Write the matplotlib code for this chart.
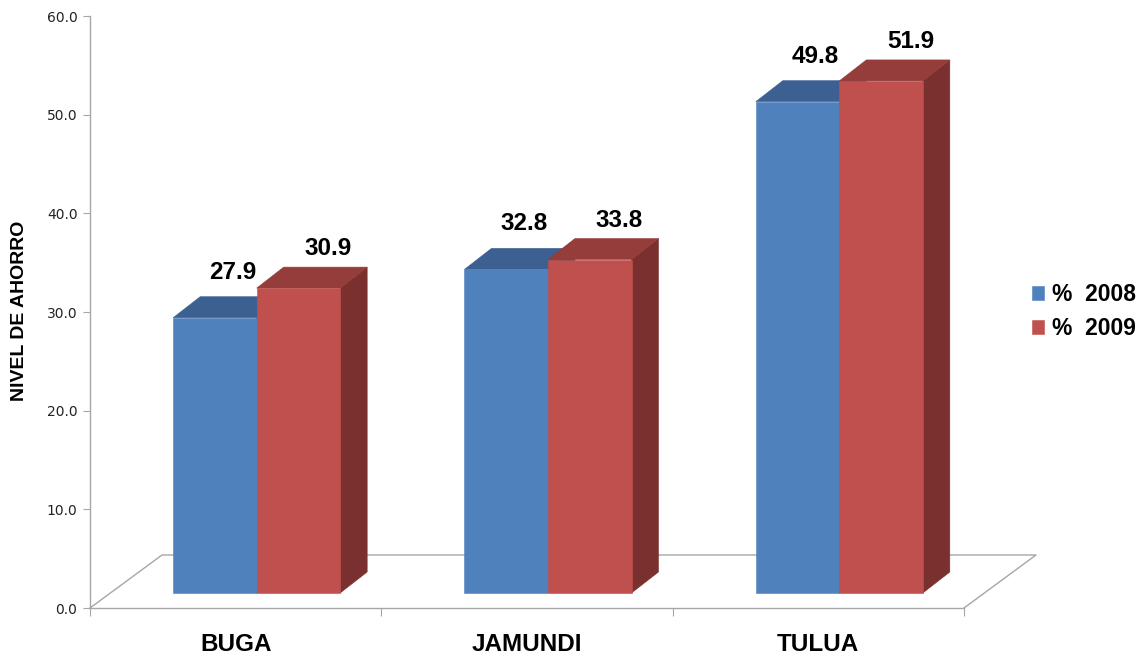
import matplotlib
matplotlib.use("Agg")
import matplotlib.pyplot as plt
from matplotlib.patches import Polygon
import numpy as np

categories = ["BUGA", "JAMUNDI", "TULUA"]
series_names = ["%  2008", "%  2009"]
values_2008 = [27.9, 32.8, 49.8]
values_2009 = [30.9, 33.8, 51.9]
y_ticks = [0, 10, 20, 30, 40, 50, 60]
y_label = "NIVEL DE AHORRO"

front_colors = ["#4F81BD", "#C0504D"]
top_colors = ["#3C6091", "#943D3B"]
side_colors = ["#345682", "#7A302E"]

W, H = 1144, 656
fig = plt.figure(figsize=(W / 100, H / 100), dpi=100)
plt.rcParams['font.family'] = ['Liberation Sans', 'DejaVu Sans']

ax_l, ax_r, ax_b, ax_t = 90, 964, 608, 16
ax = fig.add_axes([ax_l / W, (H - ax_b) / H, (ax_r - ax_l) / W, (ax_b - ax_t) / H])
ax.set_xlim(-0.5, 2.5)
ax.set_ylim(0, 60)

pxx = 3.0 / (ax_r - ax_l)      # data units per pixel (x)
pxy = 60.0 / (ax_b - ax_t)     # data units per pixel (y)

# pseudo-3D geometry (pixels)
shift_x, shift_y = 21, 15       # bars sit a bit behind front plane
bar_w = 83.5
depth_x, depth_y = 27, 21
floor_x, floor_y = 72, 53

gray = "#A6A6A6"
# floor outline
fx = [-0.5, -0.5 + floor_x * pxx, 2.5 + floor_x * pxx, 2.5]
fy = [0, floor_y * pxy, floor_y * pxy, 0]
ax.plot(fx, fy, color=gray, lw=1.0, clip_on=False, zorder=1)

x = np.arange(len(categories))
base = shift_y * pxy
bw = bar_w * pxx
for si, vals in enumerate([values_2008, values_2009]):
    z = 2 + si * 2
    lefts = x - bw + shift_x * pxx + si * bw
    ax.bar(lefts, vals, width=bw, bottom=base, align='edge', color=front_colors[si],
           edgecolor=front_colors[si], linewidth=0.4, zorder=z + 0.5, label=series_names[si])
    dx, dy = depth_x * pxx, depth_y * pxy
    for l, v in zip(lefts, vals):
        top = base + v
        ax.add_patch(Polygon([(l, top), (l + dx, top + dy), (l + bw + dx, top + dy), (l + bw, top)],
                             closed=True, facecolor=top_colors[si], edgecolor=top_colors[si],
                             linewidth=0.4, zorder=z + 0.4, clip_on=False))
        ax.add_patch(Polygon([(l + bw, base), (l + bw + dx, base + dy), (l + bw + dx, top + dy), (l + bw, top)],
                             closed=True, facecolor=side_colors[si], edgecolor=side_colors[si],
                             linewidth=0.4, zorder=z + 0.3, clip_on=False))
        gap = 18 if si == 0 else 12
        xo = 4 if si == 0 else 16
        ax.text(l + bw / 2 + dx / 2 + xo * pxx, top + dy + gap * pxy, f"{v:.1f}",
                ha='center', va='baseline', fontsize=17.5, fontweight='bold',
                color='black', zorder=10, clip_on=False)

# axes styling
for s in ['top', 'right']:
    ax.spines[s].set_visible(False)
for s in ['left', 'bottom']:
    ax.spines[s].set_color(gray)
    ax.spines[s].set_linewidth(1.0)
ax.set_yticks(y_ticks, labels=[f"{t:.1f}" for t in y_ticks])
ax.tick_params(axis='y', direction='out', length=5, color=gray, pad=4, labelsize=10,
               labelfontfamily='DejaVu Sans', labelcolor='#222222')
ax.set_xticks([-0.5, 0.5, 1.5, 2.5], labels=[])
ax.tick_params(axis='x', which='major', direction='out', length=6, color=gray)
ax.set_xticks(x, labels=categories, minor=True)
ax.tick_params(axis='x', which='minor', length=0, pad=18, labelsize=17.5)
for lab in ax.get_xticklabels(minor=True):
    lab.set_fontweight('bold')

fig.text(20 / W, 1 - 311 / H, y_label, rotation=90, ha='center', va='center',
         fontsize=14, fontweight='bold')

leg = fig.legend(loc='upper left', bbox_to_anchor=(1025 / W, 1 - 276 / H), frameon=False,
                 handlelength=0.55, handleheight=0.55, handletextpad=0.32,
                 labelspacing=0.5, borderaxespad=0, borderpad=0.3,
                 prop={'weight': 'bold', 'size': 16.5})

fig.savefig("out.png", dpi=100, facecolor='white')
